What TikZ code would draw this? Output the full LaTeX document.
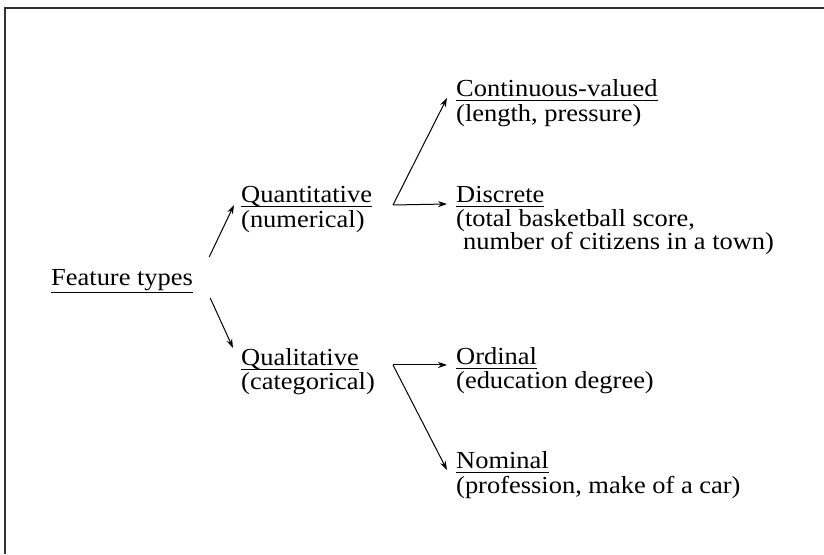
\documentclass[tikz,border=0pt]{standalone}
\usepackage{fontspec}
\setmainfont{Liberation Serif}[FakeStretch = 1.08]
\newcommand{\uln}[2][4.5pt]{\leavevmode\setbox0=\hbox{#2}\rlap{\raisebox{-#1}{\rule{\wd0}{1.2pt}}}\box0}
\usetikzlibrary{arrows.meta}
\tikzset{
	head/.style = {anchor = base west, inner sep = 0pt},
	note/.style = {anchor = base west, inner sep = 0pt},
	arr/.style = {-{Stealth[length = 9pt, width = 6pt]}, line width = 1pt},
}
\begin{document}
\begin{tikzpicture}[x = 1pt, y = 1pt, font = \fontsize{24.5}{24}\selectfont]
	      	\useasboundingbox (0,0) rectangle (824,554);
	      	\draw[line width = 1.2pt, black!80] (824,546) -- (5,546) -- (5,0);
	      	\node[head] (FT) at (51,268) {\uln[7pt]{Feature types}};
	      	\node[head] (QN) at (241,351) {\uln{Quantitative}};
	      	\node[note] (QNn) at (241,326) {(numerical)};
	      	\node[head] (QL) at (241,188) {\uln{Qualitative}};
	      	\node[note] (QLn) at (241,164) {(categorical)};
	      	\node[head] (CV) at (456,457) {\uln{Continuous-valued}};
	      	\node[note] (CVn) at (456,432) {(length, pressure)};
	      	\node[head] (DS) at (456,351) {\uln{Discrete}};
	      	\node[note] (DSn) at (456,327) {(total basketball score,};
	      	\node[note] (DSm) at (463,304) {number of citizens in a town)};
	      	\node[head] (OR) at (456,189) {\uln{Ordinal}};
	      	\node[note] (ORn) at (456,165) {(education degree)};
	      	\node[head] (NM) at (456,85) {\uln{Nominal}};
	      	\node[note] (NMn) at (456,60) {(profession, make of a car)};
	      	\coordinate (QNb) at (393,349);
	      	\coordinate (QLb) at (393,189);
	      	\draw[arr] ([shift = {(16pt,29pt)}]FT.base east) -- ([shift = {(-7pt,-2pt)}]QN.base west);
	      	\draw[arr] ([shift = {(17pt,-12pt)}]FT.base east) -- ([shift = {(-8pt,18pt)}]QL.base west);
	      	\draw[arr] (QNb) -- ([shift = {(-9pt,-1pt)}]DS.base west);
	      	\draw[arr] (QNb) -- ([shift = {(-9pt,-1pt)}]CV.base west);
	      	\draw[arr] (QLb) -- ([shift = {(-9pt,0pt)}]OR.base west);
	      	\draw[arr] (QLb) -- ([shift = {(-9pt,-1pt)}]NM.base west);
\end{tikzpicture}
\end{document}
